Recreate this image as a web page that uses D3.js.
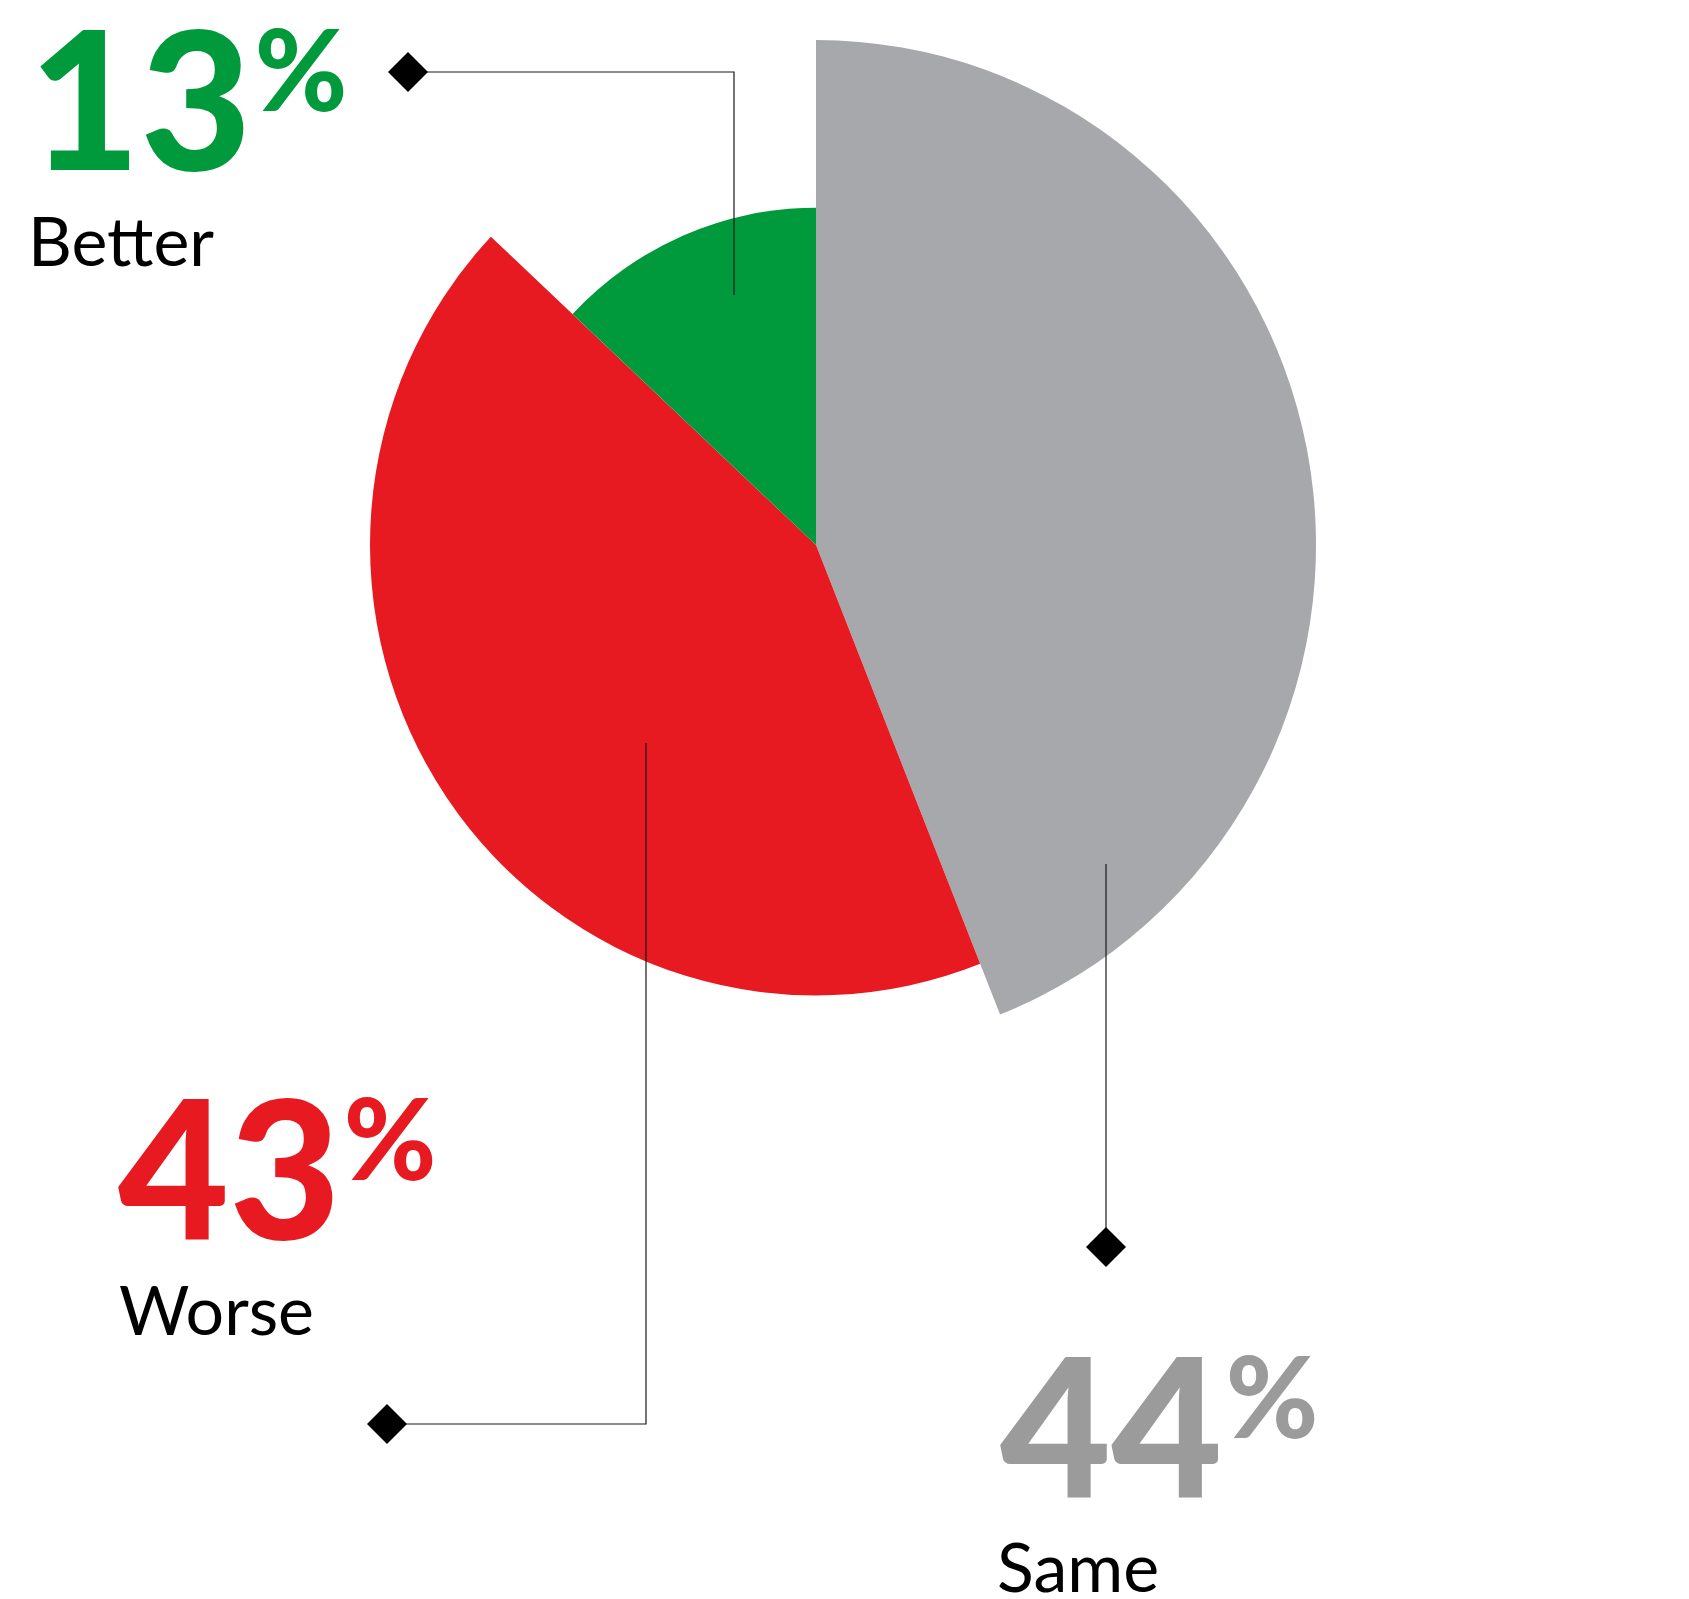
<!DOCTYPE html>
<html>
<head>
<meta charset="utf-8">
<script src="https://cdn.jsdelivr.net/npm/d3@7"></script>
<style>
  html, body { margin: 0; padding: 0; background: #ffffff; }
  svg { display: block; }
  text { font-family: Lato, "Open Sans", sans-serif; }
</style>
</head>
<body>
<svg id="chart" width="1689" height="1599"></svg>
<script>
// Survey answers, clockwise from 12 o'clock
const categories = ["Same", "Worse", "Better"];
const shares = [44, 43, 13];
const valueLabels = ["44%", "43%", "13%"];
const colors = ["#a7a8ab", "#e71921", "#009a3c"];
const textColors = ["#9b9b9b", "#e71921", "#009a3c"];

// Each wedge gets its own outer radius (fraction of the largest)
const radiusFactor = [1, 0.892, 0.668];

const svg = d3.select("#chart");
const cx = 816, cy = 545, maxR = 500;

const pie = d3.pie().sort(null).startAngle(0).endAngle(2 * Math.PI);
const slices = pie(shares);

const g = svg.append("g").attr("transform", `translate(${cx},${cy}) scale(1,1.01)`);
g.selectAll("path.slice")
  .data(slices)
  .join("path")
  .attr("class", "slice")
  .attr("fill", (d, i) => colors[i])
  .attr("d", (d, i) => d3.arc().innerRadius(0).outerRadius(maxR * radiusFactor[i])(d));

// Leader lines with diamond ends, given relative to the pie centre
const leaders = [
  [[290, 319], [290, 702]],                // Same
  [[-170, 198], [-170, 879], [-429, 879]], // Worse
  [[-82, -250], [-82, -473], [-408, -473]] // Better
];
const line = d3.line();
const ann = svg.append("g").attr("transform", `translate(${cx},${cy})`);
leaders.forEach(pts => {
  ann.append("path")
    .attr("d", line(pts))
    .attr("fill", "none")
    .attr("stroke", "#1a1a1a")
    .attr("stroke-width", 1.2);
  const [ex, ey] = pts[pts.length - 1];
  const h = 20;
  ann.append("path")
    .attr("d", `M${ex},${ey - h}L${ex + h},${ey}L${ex},${ey + h}L${ex - h},${ey}Z`)
    .attr("fill", "#000");
});

// Big value labels with superscript percent, and category names underneath
const labelPos = [
  { x: 1000, y: 1497, lx: 997, ly: 1592 }, // Same
  { x: 118, y: 1239, lx: 119, ly: 1335 },  // Worse
  { x: 29, y: 170, lx: 28, ly: 266 }       // Better
];
categories.forEach((cat, i) => {
  const p = labelPos[i];
  const num = valueLabels[i].replace("%", "");
  const t = svg.append("text")
    .attr("x", p.x)
    .attr("y", p.y)
    .attr("fill", textColors[i])
    .style("font-weight", 900);
  t.append("tspan").attr("font-size", 192).text(num);
  t.append("tspan").attr("font-size", 112).attr("dx", 3).attr("dy", -59).text("%");

  svg.append("text")
    .attr("x", p.lx)
    .attr("y", p.ly)
    .attr("fill", "#000")
    .attr("font-size", 68)
    .style("font-weight", 400)
    .text(cat);
});
</script>
</body>
</html>
